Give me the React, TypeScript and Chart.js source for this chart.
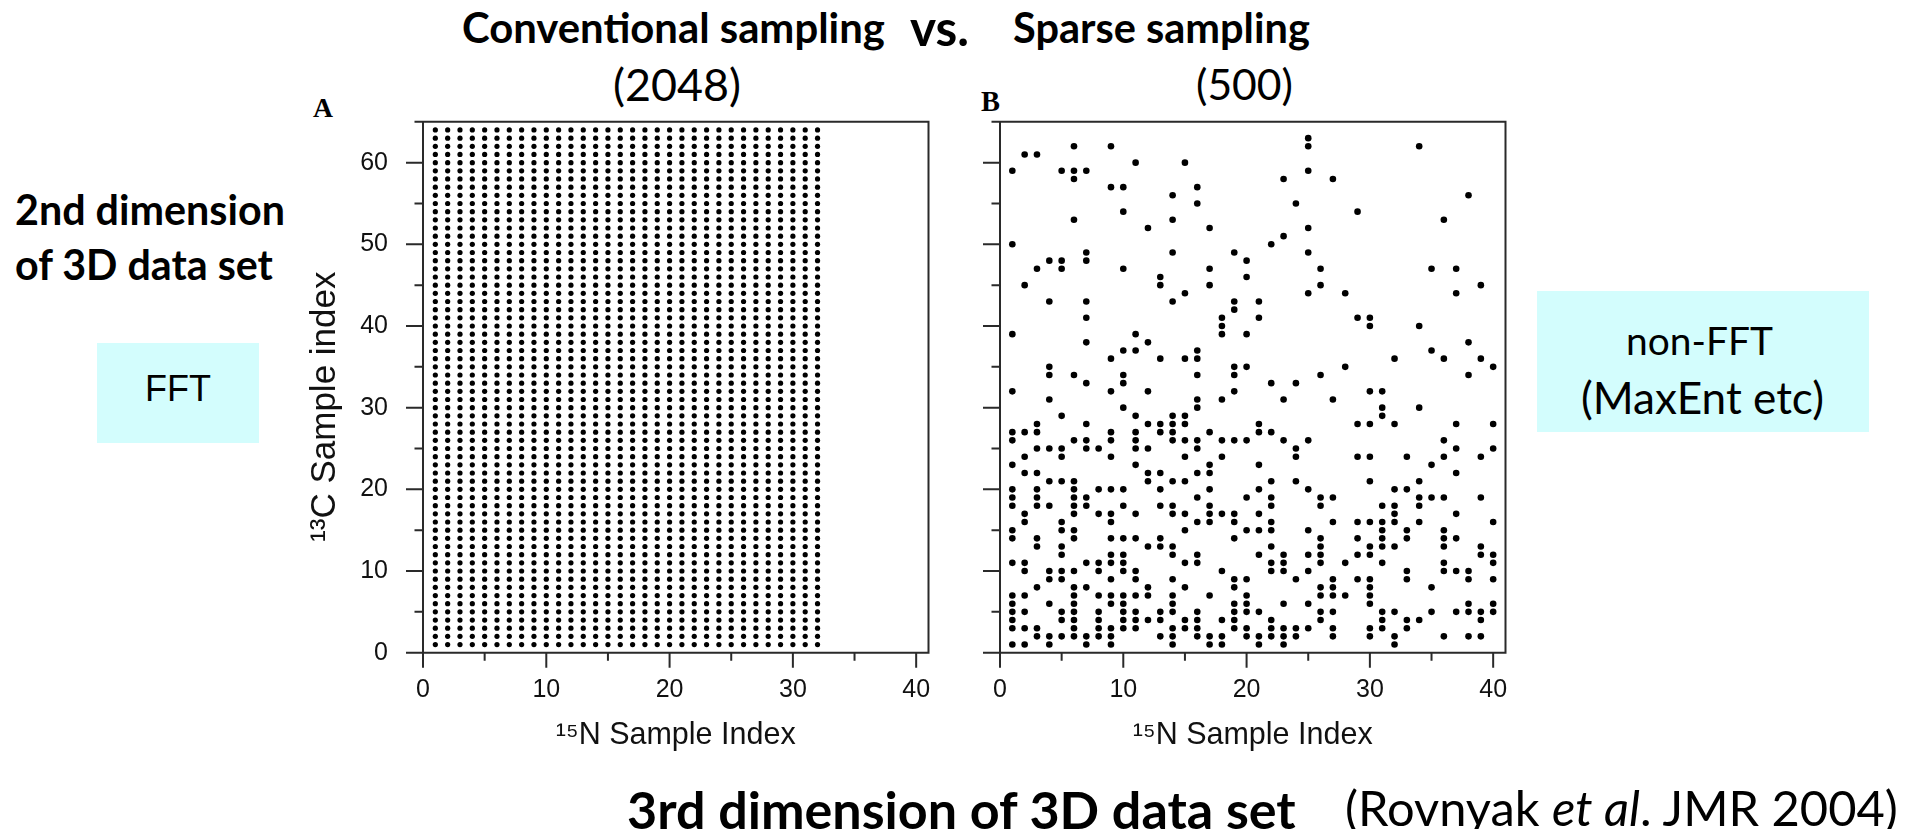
import React, { useEffect, useLayoutEffect, useRef } from 'react';
import { Chart, registerables } from 'chart.js';

Chart.register(...registerables);

// ---------- DATA ----------
// Panel A: conventional sampling, every (15N, 13C) index pair is measured (32 x 64 = 2048)
const conventionalX = [1, 2, 3, 4, 5, 6, 7, 8, 9, 10, 11, 12, 13, 14, 15, 16, 17, 18, 19, 20, 21, 22, 23, 24, 25, 26, 27, 28, 29, 30, 31, 32];
const conventionalY = [1, 2, 3, 4, 5, 6, 7, 8, 9, 10, 11, 12, 13, 14, 15, 16, 17, 18, 19, 20, 21, 22, 23, 24, 25, 26, 27, 28, 29, 30, 31, 32,
  33, 34, 35, 36, 37, 38, 39, 40, 41, 42, 43, 44, 45, 46, 47, 48, 49, 50, 51, 52, 53, 54, 55, 56, 57, 58, 59, 60, 61, 62, 63, 64];

// Panel B: sparse sampling, [13C index, list of sampled 15N indices]
const sparseRows: [number, number[]][] = [
  [1, [1, 2, 4, 7, 9, 14, 17, 18, 21, 23, 32]],
  [2, [3, 4, 5, 6, 7, 8, 9, 13, 14, 16, 17, 18, 20, 21, 22, 23, 24, 27, 30, 32, 36, 38, 39]],
  [3, [1, 2, 3, 6, 8, 9, 10, 11, 14, 15, 16, 19, 20, 22, 23, 24, 25, 27, 30, 31, 33]],
  [4, [1, 5, 6, 8, 10, 11, 12, 13, 15, 16, 18, 19, 22, 26, 31, 33, 34, 39]],
  [5, [1, 2, 5, 6, 8, 10, 11, 13, 14, 16, 19, 20, 21, 26, 27, 31, 32, 35, 37, 38, 39, 40]],
  [6, [1, 4, 6, 9, 10, 14, 19, 20, 23, 25, 30, 38, 40]],
  [7, [1, 2, 6, 8, 9, 10, 11, 12, 14, 17, 20, 26, 27, 28, 30]],
  [8, [3, 6, 7, 12, 15, 19, 26, 27, 30, 35]],
  [9, [4, 5, 9, 11, 14, 19, 20, 24, 27, 29, 30, 33, 38, 40]],
  [10, [2, 4, 5, 6, 8, 10, 11, 18, 22, 23, 25, 33, 36, 37, 38]],
  [11, [1, 2, 7, 8, 9, 10, 15, 16, 22, 23, 26, 28, 31, 36, 40]],
  [12, [5, 9, 10, 14, 16, 21, 23, 25, 26, 29, 30, 39, 40]],
  [13, [3, 5, 12, 13, 14, 22, 26, 30, 31, 32, 36, 39]],
  [14, [1, 3, 6, 9, 10, 11, 13, 19, 26, 29, 31, 33, 36, 37]],
  [15, [1, 5, 6, 15, 20, 21, 22, 25, 31, 33, 36]],
  [16, [2, 5, 9, 16, 17, 19, 22, 27, 29, 30, 31, 32, 34, 40]],
  [17, [2, 6, 8, 9, 11, 14, 15, 17, 18, 19, 21, 32, 37]],
  [18, [1, 3, 4, 6, 7, 10, 13, 14, 17, 22, 26, 31, 32, 34]],
  [19, [1, 3, 6, 7, 16, 20, 22, 26, 27, 34, 35, 36, 39]],
  [20, [1, 3, 6, 8, 9, 10, 13, 17, 21, 25, 32, 33]],
  [21, [4, 5, 6, 12, 14, 15, 22, 24, 30, 34]],
  [22, [2, 3, 12, 13, 16, 17, 37]],
  [23, [1, 11, 17, 21, 35]],
  [24, [2, 5, 9, 15, 18, 24, 29, 30, 33, 36, 39]],
  [25, [3, 4, 5, 7, 8, 11, 12, 16, 24, 37, 40]],
  [26, [1, 6, 7, 9, 11, 14, 15, 16, 18, 19, 20, 23, 25, 36]],
  [27, [1, 2, 3, 9, 11, 13, 14, 17, 21, 22]],
  [28, [3, 7, 12, 13, 14, 15, 21, 29, 30, 32, 37, 40]],
  [29, [5, 11, 14, 15, 31]],
  [30, [10, 16, 31, 34]],
  [31, [4, 16, 18, 23, 27]],
  [32, [1, 9, 12, 19, 30, 31]],
  [33, [7, 10, 22, 24]],
  [34, [4, 6, 10, 16, 19, 26, 38]],
  [35, [4, 19, 20, 28, 40]],
  [36, [9, 13, 15, 16, 32, 36, 39]],
  [37, [10, 11, 16, 35]],
  [38, [7, 12, 38]],
  [39, [1, 11, 18, 20]],
  [40, [18, 30, 34]],
  [41, [7, 18, 21, 29, 30]],
  [42, [19]],
  [43, [4, 7, 14, 19, 21]],
  [44, [15, 25, 28, 37]],
  [45, [2, 13, 17, 26, 39]],
  [46, [13, 20]],
  [47, [3, 5, 10, 17, 26, 35, 37]],
  [48, [4, 5, 7, 20]],
  [49, [7, 14, 19, 25]],
  [50, [1, 22]],
  [51, [23]],
  [52, [12, 17, 25]],
  [53, [6, 14, 36]],
  [54, [10, 29]],
  [55, [16, 24]],
  [56, [14, 38]],
  [57, [9, 10, 16]],
  [58, [6, 23, 27]],
  [59, [1, 5, 6, 7, 25]],
  [60, [11, 15]],
  [61, [2, 3]],
  [62, [6, 9, 25, 34]],
  [63, [25]],
];

// Axis ranges and ticks
const xRange = [0, 41];
const yRange = [0, 65];
const xMajorTicks = [0, 10, 20, 30, 40];
const xMinorTicks = [5, 15, 25, 35];
const yMajorTicks = [0, 10, 20, 30, 40, 50, 60];
const yMinorTicks = [5, 15, 25, 35, 45, 55, 65];

const xTitle = '\u00B9\u2075N Sample Index';
const yTitle = '\u00B9\u00B3C Sample index    ';

// ---------- STYLE ----------
const AXIS_COLOR = '#2a2a2a';
const TICK_FONT = 'Liberation Sans';

const framePlugin = {
  id: 'frameTicks',
  afterDatasetsDraw(chart: any) {
    const { ctx, chartArea } = chart;
    const { left, right, top, bottom } = chartArea;
    const xs = chart.scales.x;
    const ys = chart.scales.y;
    ctx.save();
    ctx.strokeStyle = AXIS_COLOR;
    ctx.lineWidth = 2;
    ctx.beginPath();
    ctx.moveTo(left, top);
    ctx.lineTo(right, top);
    ctx.moveTo(left, bottom);
    ctx.lineTo(right, bottom);
    ctx.moveTo(left, top - 1);
    ctx.lineTo(left, bottom + 1);
    ctx.moveTo(right, top - 1);
    ctx.lineTo(right, bottom + 1);
    for (const v of yMajorTicks) {
      const p = ys.getPixelForValue(v);
      ctx.moveTo(left - 17, p);
      ctx.lineTo(left, p);
    }
    for (const v of yMinorTicks) {
      const p = ys.getPixelForValue(v);
      ctx.moveTo(left - 8.5, p);
      ctx.lineTo(left, p);
    }
    for (const v of xMajorTicks) {
      const p = xs.getPixelForValue(v);
      ctx.moveTo(p, bottom);
      ctx.lineTo(p, bottom + 15);
    }
    for (const v of xMinorTicks) {
      const p = xs.getPixelForValue(v);
      ctx.moveTo(p, bottom);
      ctx.lineTo(p, bottom + 8);
    }
    ctx.stroke();
    ctx.restore();
  },
};

type PanelProps = {
  points: { x: number; y: number }[];
  radius: number;
  showYLabels: boolean;
  left: number;
  top: number;
  yAxisWidth: number;
  rightPad: number;
};

const CANVAS_W = 680;
const CANVAS_H = 700;

function Panel({ points, radius, showYLabels, left, top, yAxisWidth, rightPad }: PanelProps) {
  const ref = useRef<HTMLCanvasElement>(null);
  useEffect(() => {
    if (!ref.current) return;
    const chart = new Chart(ref.current, {
      type: 'scatter',
      data: {
        datasets: [
          {
            data: points,
            pointRadius: radius,
            pointHoverRadius: radius,
            pointBackgroundColor: '#000',
            pointBorderWidth: 0,
            pointBorderColor: '#000',
          },
        ],
      },
      options: {
        animation: false,
        responsive: false,
        devicePixelRatio: 1,
        events: [],
        layout: { padding: { left: 0, top: 21.8, right: rightPad, bottom: 27.3 } },
        plugins: { legend: { display: false }, tooltip: { enabled: false } },
        scales: {
          x: {
            type: 'linear',
            min: xRange[0],
            max: xRange[1],
            afterBuildTicks: (s: any) => {
              s.ticks = xMajorTicks.map((value) => ({ value }));
            },
            afterFit: (s: any) => {
              s.height = 120;
              s.paddingLeft = 0;
              s.paddingRight = 0;
              s.paddingTop = 0;
              s.paddingBottom = 0;
            },
            grid: { display: false, drawTicks: false },
            border: { display: false },
            ticks: {
              padding: 22,
              autoSkip: false,
              maxRotation: 0,
              color: '#111',
              font: { family: TICK_FONT, size: 25 },
              callback: (v: any) => String(v),
            },
            title: {
              display: true,
              text: xTitle,
              color: '#111',
              font: { family: TICK_FONT, size: 30.5 },
              padding: { top: 0, bottom: 18.7 },
            },
          },
          y: {
            type: 'linear',
            min: yRange[0],
            max: yRange[1],
            afterBuildTicks: (s: any) => {
              s.ticks = yMajorTicks.map((value) => ({ value }));
            },
            afterFit: (s: any) => {
              s.width = yAxisWidth;
              s.paddingLeft = 0;
              s.paddingRight = 0;
              s.paddingTop = 0;
              s.paddingBottom = 0;
            },
            grid: { display: false, drawTicks: false },
            border: { display: false },
            ticks: {
              display: showYLabels,
              padding: 35,
              autoSkip: false,
              color: '#111',
              font: { family: TICK_FONT, size: 25 },
              callback: (v: any) => String(v),
            },
            title: {
              display: showYLabels,
              text: yTitle,
              color: '#111',
              font: { family: TICK_FONT, size: 35 },
              padding: { top: 24, bottom: 0 },
            },
          },
        },
      },
      plugins: [framePlugin],
    });
    return () => chart.destroy();
  }, []);
  return (
    <canvas
      ref={ref}
      width={CANVAS_W}
      height={CANVAS_H}
      style={{ position: 'absolute', left, top, width: CANVAS_W, height: CANVAS_H }}
    />
  );
}

type FitProps = {
  x: number;
  cy: number;
  w: number;
  size: number;
  family: string;
  weight?: number;
  children: React.ReactNode;
};

function FitText({ x, cy, w, size, family, weight = 400, children }: FitProps) {
  const ref = useRef<HTMLDivElement>(null);
  useLayoutEffect(() => {
    const el = ref.current;
    if (!el) return;
    el.style.fontSize = size + 'px';
    const m = el.getBoundingClientRect().width;
    if (m > 0) el.style.fontSize = (size * w) / m + 'px';
  }, []);
  return (
    <div
      ref={ref}
      style={{
        position: 'absolute',
        left: x,
        top: cy,
        transform: 'translateY(-50%)',
        whiteSpace: 'nowrap',
        fontFamily: family,
        fontWeight: weight,
        fontSize: size,
        lineHeight: 1,
        color: '#000',
      }}
    >
      {children}
    </div>
  );
}

const HEAD = 'Lato, "Noto Sans", sans-serif';
const BOX_BG = '#d3fdfd';

export default function App() {
  const densePoints = conventionalX.flatMap((x) => conventionalY.map((y) => ({ x, y })));
  const sparsePoints = sparseRows.flatMap(([y, xs]) => xs.map((x) => ({ x, y })));
  return (
    <div
      style={{
        position: 'absolute',
        left: 0,
        top: 0,
        width: 1923,
        height: 829,
        overflow: 'hidden',
        background: '#fff',
      }}
    >
      <FitText x={462} cy={28} w={423} size={30} family={HEAD} weight={700}>Conventional sampling</FitText>
      <FitText x={910} cy={28} w={59} size={30} family={HEAD} weight={700}>vs.</FitText>
      <FitText x={1013} cy={28} w={297} size={30} family={HEAD} weight={700}>Sparse sampling</FitText>
      <FitText x={613} cy={83.5} w={128} size={30} family={HEAD}>(2048)</FitText>
      <FitText x={1196} cy={83.5} w={97} size={30} family={HEAD}>(500)</FitText>

      <FitText x={313} cy={107.5} w={20} size={28} family='"Liberation Serif", serif' weight={700}>A</FitText>
      <FitText x={981} cy={102} w={19} size={28} family='"Liberation Serif", serif' weight={700}>B</FitText>

      <FitText x={15} cy={210} w={270} size={30} family={HEAD} weight={700}>2nd dimension</FitText>
      <FitText x={15} cy={265} w={258} size={30} family={HEAD} weight={700}>of 3D data set</FitText>

      <div style={{ position: 'absolute', left: 97, top: 343, width: 162, height: 100, background: BOX_BG }} />
      <FitText x={145} cy={389} w={66} size={38} family='"Liberation Sans", Arial, sans-serif'>FFT</FitText>

      <div style={{ position: 'absolute', left: 1537, top: 291, width: 332, height: 141, background: BOX_BG }} />
      <FitText x={1626} cy={340} w={147} size={34} family={HEAD}>non-FFT</FitText>
      <FitText x={1581} cy={397} w={243} size={34} family={HEAD}>(MaxEnt etc)</FitText>

      <Panel points={densePoints} radius={2.6} showYLabels={true} left={280} top={100} yAxisWidth={143} rightPad={31.5} />
      <Panel points={sparsePoints} radius={3.3} showYLabels={false} left={860} top={100} yAxisWidth={140} rightPad={34.5} />

      <FitText x={627} cy={809} w={669} size={40} family={HEAD} weight={700}>3rd dimension of 3D data set</FitText>
      <FitText x={1345} cy={807} w={553} size={36} family={HEAD}>
        (Rovnyak <i>et al</i>. JMR 2004)
      </FitText>
    </div>
  );
}
